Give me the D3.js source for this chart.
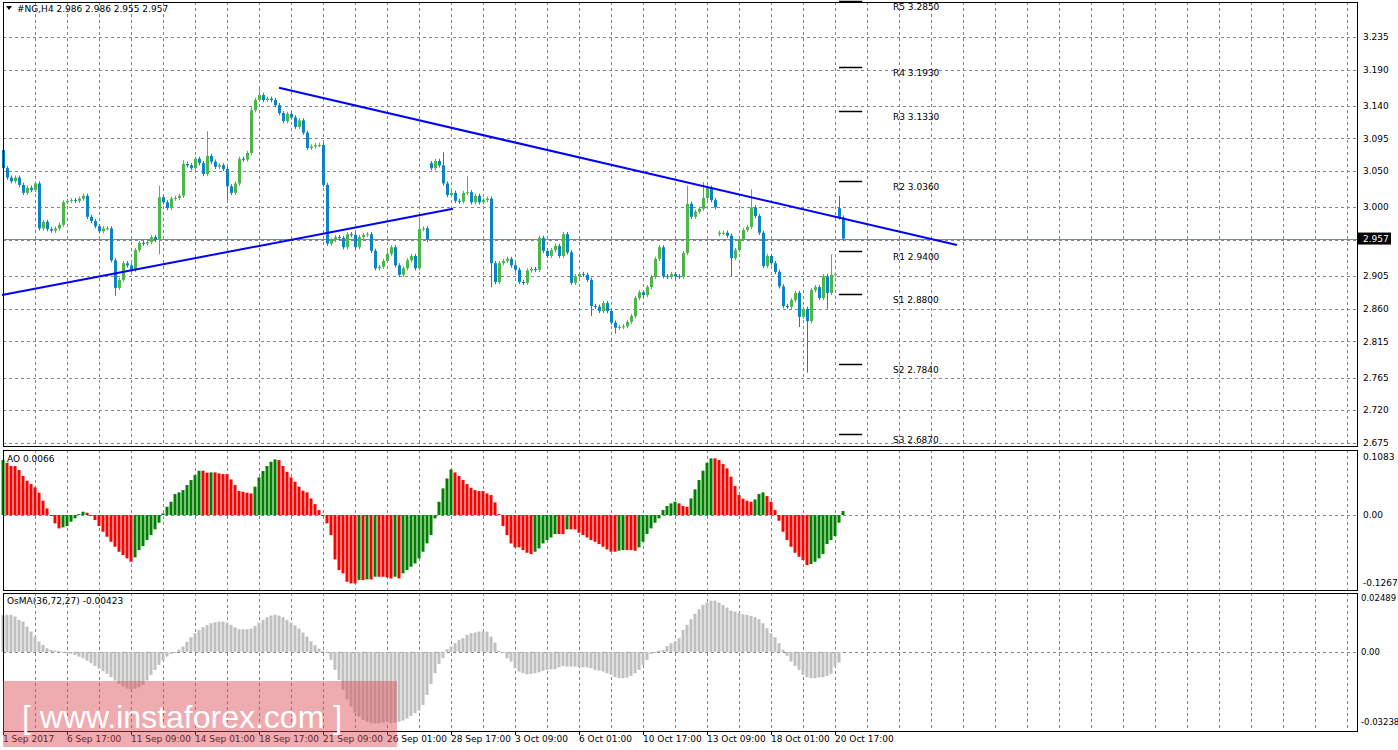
<!DOCTYPE html>
<html><head><meta charset="utf-8">
<script src="https://cdn.jsdelivr.net/npm/d3@7/dist/d3.min.js"></script>
<style>body{margin:0;background:#fff}svg{display:block}text{font-family:"DejaVu Sans",Arial,sans-serif;font-size:9px;fill:#000}</style>
</head><body><svg id="c" width="1398" height="750"></svg>
<script>
// ---- data ----
const closes=[3.054,3.041,3.036,3.041,3.031,3.020,3.027,3.024,3.033,2.971,2.980,2.970,2.968,2.971,2.976,3.007,3.009,3.010,3.009,3.012,3.016,2.987,2.981,2.974,2.967,2.971,2.971,2.927,2.889,2.900,2.923,2.920,2.914,2.941,2.951,2.950,2.952,2.959,2.955,3.014,3.007,2.999,3.012,3.013,3.016,3.060,3.058,3.054,3.067,3.061,3.046,3.071,3.063,3.056,3.058,3.053,3.029,3.020,3.033,3.067,3.066,3.075,3.134,3.148,3.155,3.148,3.150,3.148,3.141,3.130,3.119,3.129,3.124,3.111,3.120,3.103,3.082,3.084,3.086,3.086,3.031,2.950,2.955,2.959,2.958,2.945,2.963,2.962,2.945,2.959,2.962,2.963,2.940,2.916,2.918,2.926,2.936,2.945,2.920,2.907,2.916,2.927,2.933,2.916,2.970,2.971,2.955,3.054,3.064,3.058,3.033,3.017,3.020,3.009,3.008,3.020,3.021,3.007,3.016,3.007,3.010,3.012,2.923,2.897,2.923,2.926,2.929,2.920,2.914,2.897,2.896,2.913,2.915,2.914,2.958,2.940,2.933,2.941,2.947,2.933,2.963,2.938,2.896,2.905,2.908,2.907,2.900,2.864,2.863,2.857,2.868,2.857,2.841,2.834,2.835,2.836,2.842,2.850,2.875,2.883,2.879,2.890,2.904,2.929,2.945,2.905,2.904,2.908,2.905,2.904,2.937,3.005,2.987,2.994,2.998,3.013,3.027,3.010,3.000,2.965,2.965,2.961,2.930,2.941,2.956,2.969,2.973,3.000,2.988,2.965,2.919,2.933,2.923,2.911,2.891,2.864,2.863,2.872,2.882,2.849,2.860,2.843,2.886,2.890,2.875,2.905,2.882,2.907,2.908,2.986,2.957];
const gapOpens={0:3.079,107:3.061,179:2.963,209:2.999};
const highs={39:3.030,45:3.065,51:3.105,62:3.140,64:3.165,104:2.987,110:3.076,116:3.043,171:3.030,175:3.035,187:3.025,209:3.016,207:2.935};
const lows={28:2.878,39:2.935,56:3.010,122:2.890,147:2.850,153:2.826,182:2.905,199:2.835,201:2.772,206:2.860};
const aoPix=[60,68,78,78,90,108,122,132,142,158,182,205,226,250,265,262,258,245,235,222,215,218,226,240,258,275,290,305,320,335,345,355,365,352,330,318,300,285,268,248,220,200,185,162,157,150,135,120,105,92,92,98,97,97,100,102,102,118,135,153,155,158,160,140,112,93,78,65,58,60,78,95,112,125,140,152,157,175,192,210,228,250,285,358,390,400,425,430,430,420,420,418,418,410,410,410,412,415,410,415,400,390,380,370,
355,335,310,285,235,185,145,115,88,97,108,120,132,143,150,153,153,160,165,187,222,258,285,310,322,322,330,338,342,335,325,310,300,292,282,282,282,268,268,268,278,285,292,300,305,312,320,328,335,335,332,330,330,330,332,322,305,282,265,248,235,210,198,190,185,190,198,200,175,148,120,92,68,55,55,60,72,85,110,138,165,176,182,185,178,162,157,168,185,210,242,275,300,320,338,350,360,375,372,365,355,342,312,300,288,248,213];
const aoValues=aoPix.map(p=>+((225-p)/1608).toFixed(4));
const osPix=[525,525,525,530,540,545,560,575,590,605,615,625,630,632,634,636,
640,642,645,650,655,662,670,678,686,694,702,712,722,732,740,746,748,
746,742,735,722,705,690,675,662,650,642,636,630,620,606,
592,580,570,562,556,550,547,545,545,548,555,562,568,568,568,566,558,548,540,532,527,525,
527,532,540,548,556,566,578,590,604,616,626,634,640,
660,690,720,750,778,800,818,830,840,846,850,850,850,848,845,850,848,846,842,836,828,820,
812,795,765,732,700,672,655,628,620,610,600,595,585,580,578,575,575,575,590,608,632,640,655,665,685,695,700,703,702,700,697,693,690,688,688,682,678,680,680,680,682,682,682,685,690,692,695,700,705,712,715,715,713,708,700,690,675,660,642,636,632,630,618,610,605,595,570,555,538,522,508,495,488,482,482,488,495,503,512,515,520,523,525,528,532,538,550,565,580,592,610,630,648,665,678,690,705,712,715,715,712,712,708,702,680,668];
const osValues=osPix.map(p=>+((636-p)/6495).toFixed(5));
const priceTicks=["3.235","3.190","3.140","3.095","3.050","3.000","2.905","2.860","2.815","2.765","2.720","2.675"];
const gridPrices=[3.235,3.190,3.140,3.095,3.050,3.000,2.955,2.905,2.860,2.815,2.765,2.720,2.675];
const timeLabels=["1 Sep 2017","6 Sep 17:00","11 Sep 09:00","14 Sep 01:00","18 Sep 17:00","21 Sep 09:00","26 Sep 01:00","28 Sep 17:00","3 Oct 09:00","6 Oct 01:00","10 Oct 17:00","13 Oct 09:00","18 Oct 01:00","20 Oct 17:00"];
const pivots=[["R5",3.2850],["R4",3.1930],["R3",3.1330],["R2",3.0360],["R1",2.9400],["S1",2.8800],["S2",2.7840],["S3",2.6870]];
const trendLines=[[[-0.25,2.879],[112.5,2.998]],[[69,3.165],[238.5,2.948]]];
const lastPrice=2.957;
// ---- drawing ----
const svg=d3.select("#c");
const L=3,R=1357;
const x=d3.scaleLinear().domain([0,1]).range([3,7]);
const y=d3.scaleLinear().domain([2.675,3.235]).range([443,37]);
const yA=d3.scaleLinear().domain([-0.1267,0.1083]).range([583,457]);
const yO=d3.scaleLinear().domain([-0.03238,0.02489]).range([722,598]);
const panels=[[2,446],[450,590],[593,731]];
const dash="3,3", gcol="#7b8694";
const vg=d3.range(8,340,8).filter(i=>x(i)<R);
panels.forEach(([t,b])=>{
 svg.append("g").selectAll("line").data(vg).join("line").attr("x1",d=>x(d)+0.5).attr("x2",d=>x(d)+0.5).attr("y1",t).attr("y2",b).attr("stroke",gcol).attr("stroke-dasharray",dash);
});
svg.append("g").selectAll("line").data(gridPrices).join("line").attr("x1",L).attr("x2",R).attr("y1",d=>Math.round(y(d))+0.5).attr("y2",d=>Math.round(y(d))+0.5).attr("stroke",gcol).attr("stroke-dasharray",dash);
[[yA(0)],[yO(0)]].forEach(([v])=>svg.append("line").attr("x1",L).attr("x2",R).attr("y1",Math.round(v)+0.5).attr("y2",Math.round(v)+0.5).attr("stroke",gcol).attr("stroke-dasharray",dash));
svg.append("line").attr("x1",L).attr("x2",R).attr("y1",Math.round(y(lastPrice))+0.5).attr("y2",Math.round(y(lastPrice))+0.5).attr("stroke","#7b8694");
const bars=closes.map((c,i)=>{const o=gapOpens[i]!==undefined?gapOpens[i]:closes[i-1];
 const h=highs[i]!==undefined?highs[i]:Math.max(o,c)+0.003; const l=lows[i]!==undefined?lows[i]:Math.min(o,c)-0.003; return {i,o,c,h,l};});
const cg=svg.append("g");
bars.forEach(b=>{const col=b.c>=b.o?"#4cb748":"#0a84c6";const cx=Math.round(x(b.i));
 cg.append("line").attr("x1",cx+0.5).attr("x2",cx+0.5).attr("y1",y(b.h)).attr("y2",y(b.l)).attr("stroke",col);
 const t=y(Math.max(b.o,b.c)),bt=y(Math.min(b.o,b.c));
 cg.append("rect").attr("x",cx-1).attr("width",3).attr("y",t).attr("height",Math.max(1,bt-t)).attr("fill",col);});
trendLines.forEach(tl=>svg.append("line").attr("x1",x(tl[0][0])).attr("y1",y(tl[0][1])).attr("x2",x(tl[1][0])).attr("y2",y(tl[1][1])).attr("stroke","#0000ff").attr("stroke-width",2));
pivots.forEach(([n,v])=>{const yy=Math.round(y(v))+0.5;
 svg.append("line").attr("x1",x(209)).attr("x2",x(214.8)).attr("y1",yy).attr("y2",yy).attr("stroke","#000").attr("stroke-width",1.5);
 svg.append("text").attr("x",x(222.5)).attr("y",yy+8).text(n+" "+v.toFixed(4));});
const aoG=svg.append("g");
aoValues.forEach((v,i)=>{const up=i===0?true:v>aoValues[i-1];const cx=Math.round(x(i));
 aoG.append("rect").attr("x",cx-1.5).attr("width",3).attr("y",Math.min(yA(v),yA(0))).attr("height",Math.max(1,Math.abs(yA(v)-yA(0)))).attr("fill",up?"#008000":"#ff0000");});
const osG=svg.append("g");
osValues.forEach((v,i)=>{const cx=Math.round(x(i));
 osG.append("rect").attr("x",cx-1.5).attr("width",3).attr("y",Math.min(yO(v),yO(0))).attr("height",Math.max(1,Math.abs(yO(v)-yO(0)))).attr("fill","#c0c0c0");});
panels.forEach(([t,b])=>svg.append("rect").attr("x",L+0.5).attr("y",t+0.5).attr("width",R-L).attr("height",b-t).attr("fill","none").attr("stroke","#000"));
priceTicks.forEach(s=>svg.append("text").attr("x",1363).attr("y",y(+s)+3).text(s));
svg.append("rect").attr("x",1358).attr("y",y(lastPrice)-6).attr("width",33).attr("height",12).attr("fill","#000");
svg.append("text").attr("x",1363).attr("y",y(lastPrice)+3).style("fill","#fff").text(lastPrice.toFixed(3));
[["0.1083",0.1083],["0.00",0],["-0.1267",-0.1267]].forEach(([s,v])=>svg.append("text").attr("x",1363).attr("y",yA(v)+3).text(s));
[["0.02489",0.02489],["0.00",0],["-0.03238",-0.03238]].forEach(([s,v])=>svg.append("text").attr("x",1361).attr("y",yO(v)+3).style("font-size","8.5px").text(s));
timeLabels.forEach((s,k)=>{const xi=x(k*16);
 svg.append("line").attr("x1",xi+0.5).attr("x2",xi+0.5).attr("y1",731).attr("y2",735).attr("stroke","#000");
 svg.append("text").attr("x",xi).attr("y",742).text(s);});
svg.append("path").attr("d","M6,6 L12,6 L9,10 Z").attr("fill","#000");
svg.append("text").attr("x",17).attr("y",12).text("#NG,H4  2.986 2.986 2.955 2.957");
svg.append("text").attr("x",7).attr("y",462).text("AO 0.0066");
svg.append("text").attr("x",7).attr("y",604).text("OsMA(36,72,27) -0.00423");
svg.append("rect").attr("x",3).attr("y",681).attr("width",394).attr("height",66).attr("fill","rgba(220,70,80,0.45)");
svg.append("text").attr("x",22).attr("y",728).style("font-size","32px").style("fill","#fff").style("font-family","Liberation Sans").text("[  www.instaforex.com ]");
</script></body></html>
